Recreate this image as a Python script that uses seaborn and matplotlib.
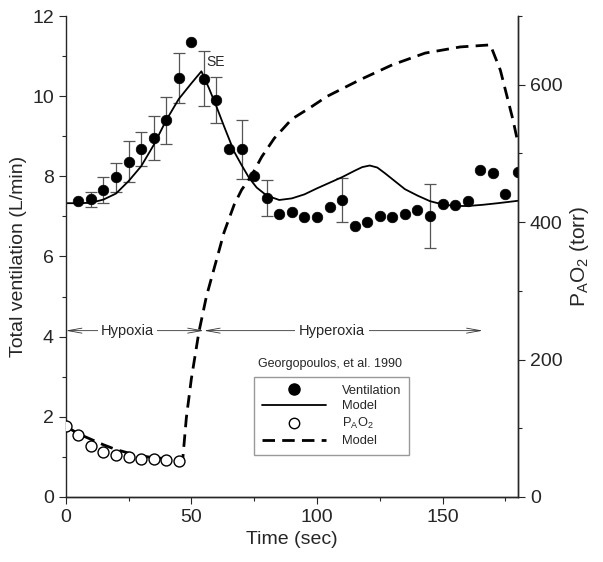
import pandas as pd
import matplotlib
matplotlib.use('Agg')
import matplotlib.pyplot as plt
import seaborn as sns
from matplotlib.ticker import MultipleLocator

# measured ventilation (every 5 s) and SE bars
vent_time = list(range(5, 185, 5))
vent = [7.39, 7.43, 7.66, 7.98, 8.37, 8.68, 8.96, 9.40, 10.45, 11.35,
        10.44, 9.90, 8.67, 8.67, 8.01, 7.46, 7.06, 7.12, 6.98, 6.98,
        7.23, 7.41, 6.76, 6.87, 7.02, 6.98, 7.07, 7.16, 7.02, 7.31,
        7.29, 7.39, 8.16, 8.08, 7.56, 8.12]
se_time = [10, 15, 20, 25, 30, 35, 40, 45, 55, 60, 70, 80, 110, 145]
se_val = [0.19, 0.32, 0.36, 0.52, 0.43, 0.55, 0.59, 0.63, 0.69, 0.58, 0.73, 0.44, 0.55, 0.80]

# model ventilation
vent_model_time = [0, 5, 10, 15, 20, 25, 30, 35, 40, 45, 50, 54, 57, 60, 63, 67, 70, 73, 76, 80,
                   85, 90, 95, 100, 105, 110, 115, 118, 121, 124, 127, 130, 135, 140, 145, 150,
                   155, 160, 166, 172, 180]
vent_model = [7.33, 7.33, 7.34, 7.42, 7.57, 7.88, 8.25, 8.78, 9.40, 9.93, 10.32, 10.62, 10.20, 9.74,
              9.25, 8.62, 8.28, 7.96, 7.72, 7.52, 7.41, 7.45, 7.55, 7.70, 7.84, 7.98, 8.14, 8.23,
              8.27, 8.22, 8.08, 7.93, 7.68, 7.52, 7.38, 7.30, 7.26, 7.26, 7.29, 7.33, 7.39]

# measured alveolar PO2 and model
pao2_time = [0, 5, 10, 15, 20, 25, 30, 35, 40, 45]
pao2 = [103, 90, 74, 66, 61, 58, 55, 55, 54, 53]
pao2_model_time = [0, 5, 10, 15, 20, 25, 30, 35, 40, 45, 46.5, 48, 50, 53, 56, 60, 63, 67, 70, 74,
                   78, 83, 90, 97, 104, 117, 130, 143, 157, 169, 173, 178, 180]
pao2_model = [103, 92, 84, 76, 69, 64, 60, 57, 56, 55, 52, 115, 172, 240, 292, 345, 385, 425, 447,
              468, 495, 522, 550, 566, 583, 607, 629, 646, 655, 658, 621, 549, 515]

vent_df = pd.DataFrame({"time": vent_time, "vent": vent})
se_df = pd.DataFrame({"time": se_time, "se": se_val}).merge(vent_df, on="time")

sns.set_style("ticks")
plt.rcParams['font.family'] = ['Liberation Sans', 'DejaVu Sans']
plt.rcParams['mathtext.fontset'] = 'custom'
plt.rcParams['mathtext.rm'] = 'Liberation Sans'

fig = plt.figure(figsize=(6.03, 5.62), dpi=100)
ax = fig.add_axes([0.109, 0.1157, 0.75, 0.8558])
ax2 = ax.twinx()

ax.errorbar(se_df["time"], se_df["vent"], yerr=se_df["se"], fmt="none",
            ecolor="#555555", elinewidth=0.9, capsize=4, capthick=0.9, zorder=1)
sns.lineplot(x=vent_model_time, y=vent_model, ax=ax, color="black", lw=1.3, zorder=2)
sns.scatterplot(x=vent_time, y=vent, ax=ax, color="black", s=58, edgecolor="black",
                linewidth=0.5, zorder=3)

sns.lineplot(x=pao2_model_time, y=pao2_model, ax=ax2, color="black", lw=2.0,
             dashes=False, zorder=2).lines[0].set_dashes((4.5, 2.6))
sns.scatterplot(x=pao2_time, y=pao2, ax=ax2, facecolor="white", edgecolor="black",
                s=62, linewidth=1.0, zorder=3)

ax.set_xlim(0, 180)
ax.set_ylim(0, 12)
ax2.set_ylim(0, 700)
ax.xaxis.set_major_locator(MultipleLocator(50))
ax.xaxis.set_minor_locator(MultipleLocator(25))
ax.yaxis.set_major_locator(MultipleLocator(2))
ax.yaxis.set_minor_locator(MultipleLocator(1))
ax2.yaxis.set_major_locator(MultipleLocator(200))
ax2.yaxis.set_minor_locator(MultipleLocator(100))
for a in (ax, ax2):
    a.spines["top"].set_visible(False)
    a.tick_params(which="major", direction="out", length=5, width=0.8, labelsize=14)
    a.tick_params(which="minor", direction="out", length=3, width=0.8)
    for s in a.spines.values():
        s.set_linewidth(1.0)
ax2.spines["left"].set_visible(False)

ax.set_xlabel("Time (sec)", fontsize=14)
ax.set_ylabel("Total ventilation (L/min)", fontsize=14)
ax2.set_ylabel(r"P$_\mathregular{A}$O$_\mathregular{2}$ (torr)", fontsize=15)

# phase arrows
arrow_y = 4.15
aprops = dict(arrowstyle="<->,head_length=1.0,head_width=0.18", lw=0.6,
              color="#333333", shrinkA=0, shrinkB=0)
ax.annotate("", xy=(0, arrow_y), xytext=(55, arrow_y), arrowprops=aprops)
ax.annotate("", xy=(55, arrow_y), xytext=(166, arrow_y), arrowprops=aprops)
ax.text(24.5, arrow_y, "Hypoxia", fontsize=10.5, ha="center", va="center",
        bbox=dict(fc="white", ec="none", pad=2))
ax.text(106, arrow_y, "Hyperoxia", fontsize=10.5, ha="center", va="center",
        bbox=dict(fc="white", ec="none", pad=3))
ax.text(56, 10.85, "SE", fontsize=10, ha="left", va="center")
ax.text(105, 3.32, "Georgopoulos, et al. 1990", fontsize=9, ha="center", va="center")

handles = [
    plt.Line2D([], [], marker="o", ls="none", color="black", markersize=8),
    plt.Line2D([], [], color="black", lw=1.3),
    plt.Line2D([], [], marker="o", ls="none", mfc="white", mec="black", markersize=7.5, mew=1.0),
    plt.Line2D([], [], color="black", lw=2.0, dashes=(4.5, 2.6)),
]
labels = ["Ventilation", "Model", r"P$_\mathregular{A}$O$_\mathregular{2}$", "Model"]
leg = ax2.legend(handles, labels, loc="upper left", bbox_to_anchor=(0.416, 0.25),
                 borderaxespad=0, fontsize=9.3, frameon=True, fancybox=False,
                 handlelength=5, handletextpad=1.2, labelspacing=0.3, borderpad=0.6)
leg.get_frame().set_edgecolor("#808080")
leg.get_frame().set_linewidth(1.0)

plt.savefig("out.png", dpi=100)
